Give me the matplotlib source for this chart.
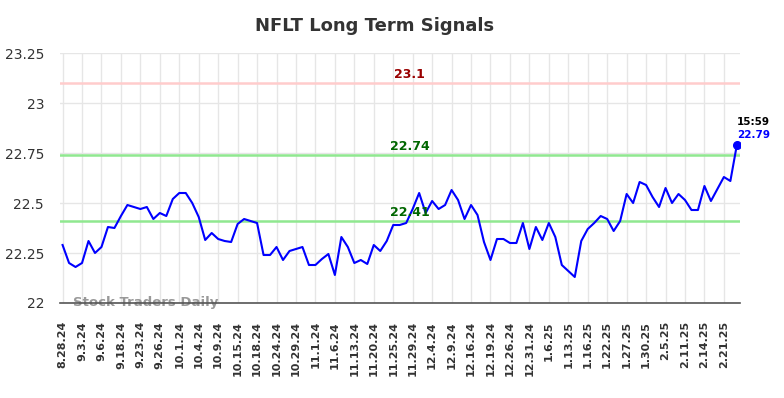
import matplotlib
matplotlib.use("Agg")
import matplotlib.pyplot as plt
import matplotlib.ticker as mticker

# ─── data ───
prices = [
    22.29, 22.20, 22.18, 22.20, 22.31, 22.25, 22.28, 22.38, 22.375, 22.435,
    22.49, 22.48, 22.47, 22.48, 22.42, 22.45, 22.435, 22.52, 22.55, 22.55,
    22.50, 22.43, 22.315, 22.35, 22.32, 22.31, 22.305, 22.395, 22.42, 22.41,
    22.40, 22.24, 22.24, 22.28, 22.215, 22.26, 22.27, 22.28, 22.19, 22.19,
    22.22, 22.245, 22.14, 22.33, 22.28, 22.20, 22.215, 22.195, 22.29, 22.26,
    22.31, 22.39, 22.39, 22.40, 22.47, 22.55, 22.45, 22.51, 22.47, 22.49,
    22.565, 22.515, 22.42, 22.49, 22.44, 22.305, 22.215, 22.32, 22.32, 22.30,
    22.30, 22.40, 22.27, 22.38, 22.315, 22.40, 22.33, 22.19, 22.16, 22.13,
    22.31, 22.37, 22.40, 22.435, 22.42, 22.36, 22.41, 22.545, 22.50, 22.605,
    22.59, 22.53, 22.48, 22.575, 22.50, 22.545, 22.515, 22.465, 22.465, 22.585,
    22.51, 22.57, 22.63, 22.61, 22.79,
]

tick_labels = [
    "8.28.24", "9.3.24", "9.6.24", "9.18.24", "9.23.24", "9.26.24", "10.1.24",
    "10.4.24", "10.9.24", "10.15.24", "10.18.24", "10.24.24", "10.29.24",
    "11.1.24", "11.6.24", "11.13.24", "11.20.24", "11.25.24", "11.29.24",
    "12.4.24", "12.9.24", "12.16.24", "12.19.24", "12.26.24", "12.31.24",
    "1.6.25", "1.13.25", "1.16.25", "1.22.25", "1.27.25", "1.30.25", "2.5.25",
    "2.11.25", "2.14.25", "2.21.25",
]

resistance = 23.1
upper_signal = 22.74
lower_signal = 22.41
last_time = "15:59"

fig = plt.figure(figsize=(7.84, 3.98), dpi=100)
ax = fig.add_axes([0.0765, 0.2387, 0.8675, 0.6281])

x = list(range(len(prices)))
ax.plot(x, prices, color="blue", linewidth=1.5, zorder=3)
ax.plot(x[-1], prices[-1], "o", color="blue", markersize=5.5, zorder=4)

# horizontal signal lines
ax.axhline(resistance, color="#ffcccc", linewidth=1.8, zorder=2)
ax.axhline(upper_signal, color="#90e890", linewidth=1.8, zorder=2)
ax.axhline(lower_signal, color="#90e890", linewidth=1.8, zorder=2)

mid = len(prices) / 2 + 1.0
ax.text(mid, resistance + 0.012, f"{resistance:g}", color="#990000",
        fontsize=9, fontweight="bold", ha="center", va="bottom")
ax.text(mid, upper_signal + 0.012, f"{upper_signal:g}", color="#006600",
        fontsize=9, fontweight="bold", ha="center", va="bottom")
ax.text(mid, lower_signal + 0.012, f"{lower_signal:g}", color="#006600",
        fontsize=9, fontweight="bold", ha="center", va="bottom")

# last value annotation
ax.annotate(last_time, xy=(x[-1], prices[-1]), xytext=(0, 14.5),
            textcoords="offset points", fontsize=7.5, fontweight="bold",
            color="black", ha="left", va="baseline")
ax.annotate(f"{prices[-1]:.2f}", xy=(x[-1], prices[-1]), xytext=(0, 5),
            textcoords="offset points", fontsize=7.5, fontweight="bold",
            color="blue", ha="left", va="baseline")

ax.text(1.6, 22.0, "Stock Traders Daily", fontsize=9.5, fontweight="bold",
        color="#999999", ha="left", va="center", zorder=1)

ax.set_xlim(-0.4, len(prices) - 0.5)
ax.set_ylim(22, 23.25)
ax.set_yticks([22, 22.25, 22.5, 22.75, 23, 23.25])
ax.yaxis.set_major_formatter(mticker.FuncFormatter(lambda v, p: f"{v:g}"))
ax.set_xticks(list(range(0, len(prices), 3)))
ax.set_xticklabels(tick_labels, rotation=90, fontsize=8, fontweight="bold",
                   color="#333333")
ax.tick_params(axis="y", labelsize=10, labelcolor="#333333", length=0, pad=11.5)
ax.tick_params(axis="x", length=0, pad=13)

ax.grid(True, color="#e6e6e6", linewidth=1)
ax.set_axisbelow(True)
for side in ["top", "right", "left"]:
    ax.spines[side].set_visible(False)
ax.spines["bottom"].set_color("#555555")
ax.spines["bottom"].set_linewidth(1.2)

fig.text(0.478, 0.935, "NFLT Long Term Signals", ha="center", va="center",
         fontsize=13, fontweight="bold", color="#333333")

fig.savefig("out.png", dpi=100)
